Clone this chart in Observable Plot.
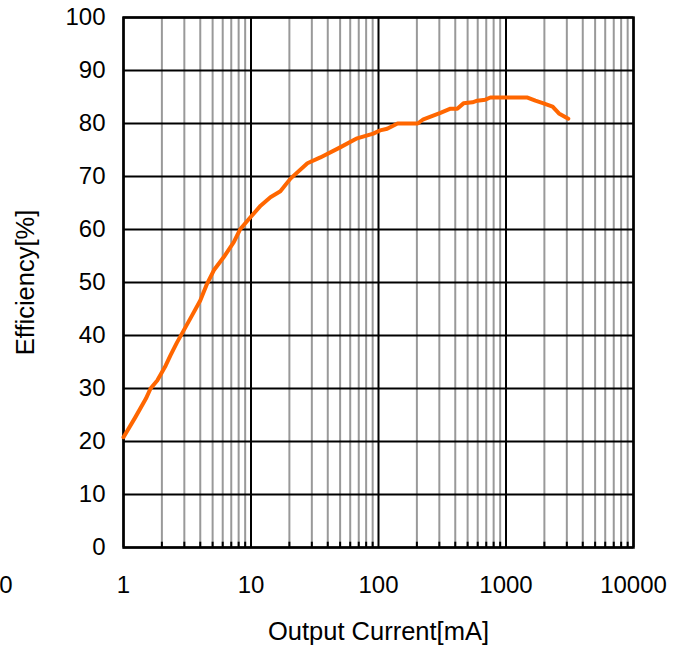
<!DOCTYPE html>
<html>
<head>
<meta charset="utf-8">
<script src="https://cdn.jsdelivr.net/npm/d3@7"></script>
<script src="https://cdn.jsdelivr.net/npm/@observablehq/plot@0.6"></script>
<style>
  html, body { margin: 0; padding: 0; background: #fff; }
  #chart svg { display: block; }
</style>
</head>
<body>
<div id="chart"></div>
<script>
// Output current (mA) and efficiency (%)
const current = [1, 1.24, 1.5, 1.63, 1.84, 2.14, 2.33, 2.63, 2.88, 3.45, 4.0, 4.53, 5.11, 6.12, 7.33, 8.25, 9.9, 11.9, 14.2, 17, 20.4, 27.7, 35, 50, 68, 91, 103, 117, 141, 203, 225, 306, 367, 415, 464, 546, 595, 689, 754, 954, 1475, 1700, 1970, 2320, 2600, 3080];
const efficiency = [20.8, 24.6, 28.1, 30, 31.5, 34.3, 36.2, 38.7, 40.4, 43.8, 46.6, 49.8, 52.3, 54.8, 57.6, 60.1, 62.3, 64.5, 66.1, 67.2, 69.6, 72.5, 73.6, 75.5, 77.2, 78.1, 78.7, 79, 80, 80, 80.8, 82, 82.8, 82.8, 83.8, 84, 84.3, 84.5, 84.9, 84.9, 84.9, 84.3, 83.8, 83.2, 81.9, 80.9];

const xMajor = [1, 10, 100, 1000, 10000];
const xMinor = [2,3,4,5,6,7,8,9,20,30,40,50,60,70,80,90,200,300,400,500,600,700,800,900,2000,3000,4000,5000,6000,7000,8000,9000];
const yTicks = [0, 10, 20, 30, 40, 50, 60, 70, 80, 90, 100];
const strayLabel = [{x: 0.1, text: "0"}];
const xTitle = "Output Current[mA]";
const yTitle = "Efficiency[%]";

const data = current.map((c, i) => ({current: c, efficiency: efficiency[i]}));
const font = "Liberation Sans, Arial, sans-serif";
const fs = 24;
const fsTitle = 25.5;

const chart = Plot.plot({
  width: 684,
  height: 647,
  marginLeft: 123,
  marginRight: 51,
  marginTop: 17,
  marginBottom: 100,
  style: {fontFamily: font, fontSize: fs + "px", color: "#000", background: "#fff", overflow: "visible"},
  x: {type: "log", domain: [1, 10000]},
  y: {domain: [0, 100]},
  marks: [
    Plot.ruleX(xMinor, {stroke: "#999", strokeWidth: 2}),
    Plot.ruleX(xMinor, {y1: 0, y2: 1, stroke: "#000", strokeWidth: 2}),
    Plot.ruleY(yTicks, {stroke: "#000", strokeWidth: 2}),
    Plot.ruleX(xMajor, {stroke: "#000", strokeWidth: 2}),
    Plot.frame({stroke: "#000", strokeWidth: 2.5}),
    Plot.line(data, {x: "current", y: "efficiency", stroke: "#FF6600", strokeWidth: 4, strokeLinejoin: "round", strokeLinecap: "round"}),
    Plot.axisY(yTicks, {tickSize: 0, tickPadding: 18, fontSize: fs, label: null}),
    Plot.axisX(xMajor, {tickSize: 0, tickPadding: 28, fontSize: fs, label: null, tickFormat: d => String(d)}),
    Plot.text(strayLabel, {x: "x", text: "text", frameAnchor: "bottom", dy: 38, dx: 10, fontSize: fs, lineAnchor: "middle"}),
    Plot.text([xTitle], {frameAnchor: "bottom", dy: 84, fontSize: fsTitle, lineAnchor: "middle"}),
    Plot.text([yTitle], {frameAnchor: "left", dx: -98, rotate: -90, textAnchor: "middle", fontSize: fsTitle, lineAnchor: "middle"})
  ]
});
document.getElementById("chart").appendChild(chart);
</script>
</body>
</html>
